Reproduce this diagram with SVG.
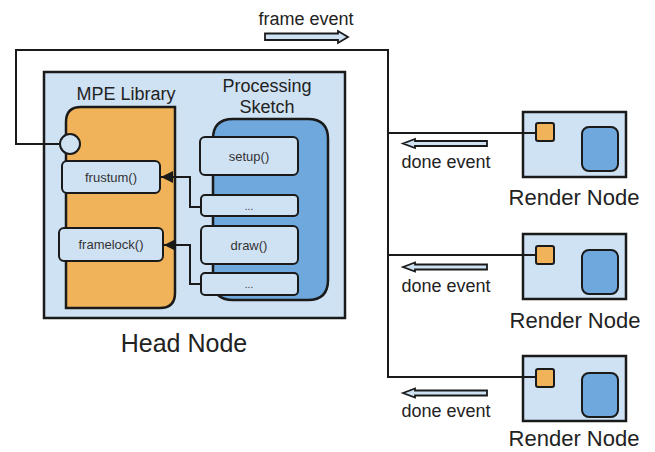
<svg xmlns="http://www.w3.org/2000/svg" width="655" height="452" viewBox="0 0 655 452">
  <style>
    .lbl { font-family: "Liberation Sans", Arial, sans-serif; fill: #222; }
    .big { font-size: 25px; }
    .mid { font-size: 22px; }
    .std { font-size: 18px; }
    .small { font-size: 13px; fill: #333; }
    .box { fill: #cfe2f3; stroke: #1a1a1a; stroke-width: 2.5; }
    .sub { fill: #cfe2f3; stroke: #1a1a1a; stroke-width: 2; }
    .lib { fill: #f1b35a; stroke: #1a1a1a; stroke-width: 2.5; }
    .sketch { fill: #6fa8dc; stroke: #1a1a1a; stroke-width: 2.5; }
    .wire { fill: none; stroke: #1a1a1a; stroke-width: 2; }
    .evt { fill: #cfe2f3; stroke: #1a1a1a; stroke-width: 1.8; stroke-linejoin: miter; }
  </style>
  <defs>
    <marker id="tri" viewBox="0 0 10 10" refX="10" refY="5" markerWidth="6" markerHeight="6" markerUnits="strokeWidth" orient="auto">
      <path d="M0,0 L10,5 L0,10 Z" fill="#1a1a1a"/>
    </marker>
    <path id="doneArrow" d="M0,4.5 L12,0 L12,2 L84,2 L84,7 L12,7 L12,9 Z"/>
  </defs>

  <rect width="655" height="452" fill="#ffffff"/>

  <!-- Head node -->
  <g id="head-node">
    <rect class="box" x="44" y="72" width="301" height="246"/>
    <text class="lbl big" x="184" y="352" text-anchor="middle">Head Node</text>
  </g>

  <g id="mpe-library">
    <path class="lib" d="M66,122 Q66,107 81,107 L175,107 L175,293 Q175,308 160,308 L66,308 Z"/>
    <text class="lbl std" x="126" y="100" text-anchor="middle">MPE Library</text>
    <circle class="sub" cx="70" cy="144" r="10"/>
  </g>

  <g id="frustum">
    <rect class="sub" x="62" y="161" width="98" height="32" rx="5"/>
    <text class="lbl small" x="111" y="181.5" text-anchor="middle">frustum()</text>
  </g>

  <g id="framelock">
    <rect class="sub" x="59" y="228" width="104" height="33" rx="5"/>
    <text class="lbl small" x="111" y="249" text-anchor="middle">framelock()</text>
  </g>

  <g id="processing-sketch">
    <path class="sketch" d="M213,139 Q213,119 233,119 L308,119 Q328,119 328,139 L328,280 Q328,300 308,300 L233,300 Q213,300 213,280 Z"/>
    <text class="lbl std" x="267" y="92" text-anchor="middle">Processing</text>
    <text class="lbl std" x="267" y="113" text-anchor="middle">Sketch</text>
  </g>

  <g id="setup">
    <rect class="sub" x="200" y="137" width="98" height="38" rx="5"/>
    <text class="lbl small" x="249" y="161" text-anchor="middle">setup()</text>
  </g>

  <g id="ellipsis-1">
    <rect class="sub" x="201" y="195" width="97" height="21" rx="4"/>
    <text class="lbl small" x="249" y="210" text-anchor="middle" style="font-size:10px">...</text>
  </g>

  <g id="draw">
    <rect class="sub" x="201" y="226" width="97" height="38" rx="5"/>
    <text class="lbl small" x="249" y="250" text-anchor="middle">draw()</text>
  </g>

  <g id="ellipsis-2">
    <rect class="sub" x="201" y="273" width="97" height="22" rx="4"/>
    <text class="lbl small" x="249" y="288" text-anchor="middle" style="font-size:10px">...</text>
  </g>

  <!-- Render nodes -->
  <g id="render-node-1">
    <rect class="box" x="523" y="112" width="103" height="65"/>
    <rect class="lib" x="536" y="123" width="18" height="18" rx="2" style="stroke-width:2"/>
    <rect class="sketch" x="582" y="127" width="36" height="44" rx="7" style="stroke-width:2"/>
    <text class="lbl mid" x="574" y="205" text-anchor="middle">Render Node</text>
  </g>

  <g id="render-node-2">
    <rect class="box" x="523" y="234" width="103" height="65"/>
    <rect class="lib" x="536" y="246" width="18" height="18" rx="2" style="stroke-width:2"/>
    <rect class="sketch" x="582" y="250" width="36" height="44" rx="7" style="stroke-width:2"/>
    <text class="lbl mid" x="575" y="328" text-anchor="middle">Render Node</text>
  </g>

  <g id="render-node-3">
    <rect class="box" x="523" y="356" width="103" height="65"/>
    <rect class="lib" x="536" y="369" width="18" height="18" rx="2" style="stroke-width:2"/>
    <rect class="sketch" x="582" y="373" width="36" height="44" rx="7" style="stroke-width:2"/>
    <text class="lbl mid" x="574" y="446" text-anchor="middle">Render Node</text>
  </g>

  <!-- Connectors and event arrows -->
  <g id="connectors">
    <path class="wire" d="M59,144 L16,144 L16,50 L388,50 L388,378"/>
    <path class="wire" d="M388,133 L536,133"/>
    <path class="wire" d="M388,255 L536,255"/>
    <path class="wire" d="M388,377 L536,377"/>

    <path class="wire" d="M201,207 L190,207 L190,177 L161,177" marker-end="url(#tri)"/>
    <path class="wire" d="M201,284 L190,284 L190,245 L164,245" marker-end="url(#tri)"/>

    <!-- frame event -->
    <path class="evt" d="M348,37 L338,31 L338,33.5 L265,33.5 L265,40 L338,40 L338,43 Z"/>
    <text class="lbl std" x="306" y="25" text-anchor="middle">frame event</text>

    <!-- done events -->
    <use href="#doneArrow" class="evt" x="403" y="139"/>
    <text class="lbl std" x="446" y="168" text-anchor="middle">done event</text>
    <use href="#doneArrow" class="evt" x="403" y="262.5"/>
    <text class="lbl std" x="446" y="292" text-anchor="middle">done event</text>
    <use href="#doneArrow" class="evt" x="403" y="388.5"/>
    <text class="lbl std" x="446" y="417" text-anchor="middle">done event</text>
  </g>
</svg>
